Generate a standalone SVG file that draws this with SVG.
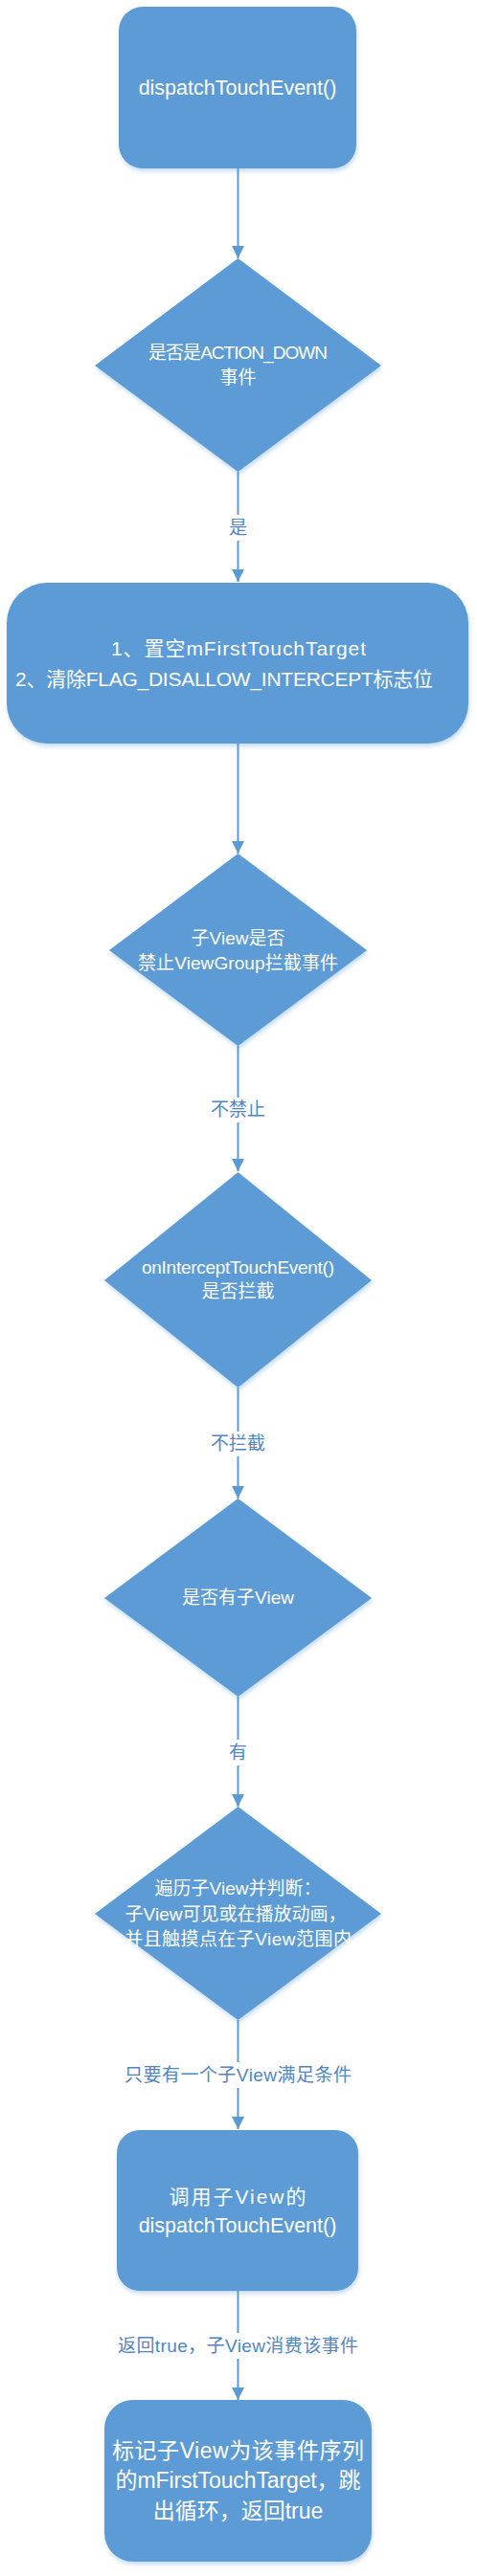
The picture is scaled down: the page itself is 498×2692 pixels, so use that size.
<svg xmlns="http://www.w3.org/2000/svg" width="498" height="2692" viewBox="0 0 498 2692">
<style>
.node{fill:#5B9BD5;filter:url(#sh);}
.nt{fill:#ffffff;font-family:"Liberation Sans","Noto Sans CJK SC",sans-serif;text-anchor:middle;}
.edge{stroke:#5B9BD5;stroke-width:2;fill:none;marker-end:url(#arr);}
.lbg{fill:#ffffff;}
.lt{fill:#4F86C6;font-family:"Liberation Sans","Noto Sans CJK SC",sans-serif;font-size:19px;text-anchor:middle;}
</style>
<defs>
<filter id="sh" x="-10%" y="-10%" width="120%" height="125%">
<feDropShadow dx="1" dy="3" stdDeviation="2" flood-color="#5B9BD5" flood-opacity="0.35"/>
</filter>
<marker id="arr" viewBox="0 0 13 13" refX="13" refY="6.5" markerWidth="13" markerHeight="13" markerUnits="userSpaceOnUse" orient="auto">
<path d="M0,0 L13,6.5 L0,13 z" fill="#5B9BD5"/>
</marker>
</defs>
<rect width="498" height="2692" fill="#ffffff"/>
<g id="connectors">
<line class="edge" x1="248.5" y1="176" x2="248.5" y2="270"/>
<line class="edge" x1="248.5" y1="493" x2="248.5" y2="608"/>
<line class="edge" x1="248.5" y1="777" x2="248.5" y2="892"/>
<line class="edge" x1="248.5" y1="1093" x2="248.5" y2="1224"/>
<line class="edge" x1="248.5" y1="1450" x2="248.5" y2="1566"/>
<line class="edge" x1="248.5" y1="1773" x2="248.5" y2="1888"/>
<line class="edge" x1="248.5" y1="2111" x2="248.5" y2="2225"/>
<line class="edge" x1="248.5" y1="2394" x2="248.5" y2="2508"/>
<rect class="lbg" x="237" y="538" width="23" height="27"/>
<text class="lt" x="248.5" y="558">是</text>
<rect class="lbg" x="217" y="1147" width="63" height="26"/>
<text class="lt" x="248.5" y="1166">不禁止</text>
<rect class="lbg" x="217" y="1496" width="63" height="26"/>
<text class="lt" x="248.5" y="1515">不拦截</text>
<rect class="lbg" x="237" y="1818" width="23" height="27"/>
<text class="lt" x="248.5" y="1838">有</text>
<rect class="lbg" x="128" y="2155" width="241" height="27"/>
<text class="lt" x="248.5" y="2175" textLength="237">只要有一个子View满足条件</text>
<rect class="lbg" x="121" y="2438" width="256" height="27"/>
<text class="lt" x="248.5" y="2458" textLength="251">返回true，子View消费该事件</text>
</g>
<g id="n1">
<rect class="node" x="124" y="7" width="248" height="169" rx="25" ry="25"/>
<text class="nt" x="248" y="99" font-size="21.5">dispatchTouchEvent()</text>
</g>
<g id="n2">
<polygon class="node" points="248.5,270 398,382 248.5,493 99,382"/>
<text class="nt" x="248.5" y="375" font-size="19" textLength="187">是否是ACTION_DOWN</text>
<text class="nt" x="248.5" y="401" font-size="19">事件</text>
</g>
<g id="n3">
<rect class="node" x="7" y="609" width="482" height="168" rx="42" ry="42"/>
<text class="nt" x="249" y="685" font-size="21" textLength="266">1、置空mFirstTouchTarget</text>
<text class="nt" x="234" y="717" font-size="21" textLength="436">2、清除FLAG_DISALLOW_INTERCEPT标志位</text>
</g>
<g id="n4">
<polygon class="node" points="248.5,892 383,993 248.5,1093 114,993"/>
<text class="nt" x="248.5" y="987" font-size="19">子View是否</text>
<text class="nt" x="248.5" y="1013" font-size="19" textLength="209">禁止ViewGroup拦截事件</text>
</g>
<g id="n5">
<polygon class="node" points="248.5,1225 388,1338 248.5,1450 109,1338"/>
<text class="nt" x="248.5" y="1331" font-size="19" textLength="201">onInterceptTouchEvent()</text>
<text class="nt" x="248.5" y="1356" font-size="19">是否拦截</text>
</g>
<g id="n6">
<polygon class="node" points="248.5,1566 388,1670 248.5,1773 109,1670"/>
<text class="nt" x="248.5" y="1676" font-size="19">是否有子View</text>
</g>
<g id="n7">
<polygon class="node" points="248.5,1888 398,2000 248.5,2111 99,2000"/>
<text class="nt" x="248.5" y="1980" font-size="19">遍历子View并判断：</text>
<text class="nt" x="246" y="2007" font-size="19">子View可见或在播放动画，</text>
<text class="nt" x="248.5" y="2033" font-size="19" textLength="237">并且触摸点在子View范围内</text>
</g>
<g id="n8">
<rect class="node" x="122" y="2226" width="252" height="168" rx="24" ry="24"/>
<text class="nt" x="248" y="2303" font-size="21" textLength="143">调用子View的</text>
<text class="nt" x="248" y="2333" font-size="21.5">dispatchTouchEvent()</text>
</g>
<g id="n9">
<rect class="node" x="109" y="2508" width="279" height="169" rx="30" ry="30"/>
<text class="nt" x="248.5" y="2569" font-size="23" textLength="263">标记子View为该事件序列</text>
<text class="nt" x="248.5" y="2600" font-size="23" textLength="256">的mFirstTouchTarget，跳</text>
<text class="nt" x="248.5" y="2632" font-size="23">出循环，返回true</text>
</g>
</svg>
